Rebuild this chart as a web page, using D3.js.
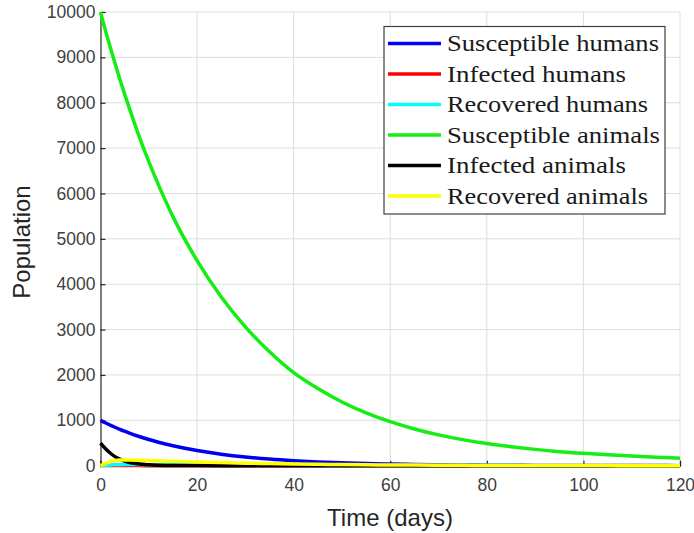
<!DOCTYPE html>
<html>
<head>
<meta charset="utf-8">
<script src="https://cdn.jsdelivr.net/npm/d3@7"></script>
<style>
  html, body { margin: 0; padding: 0; background: #ffffff; }
  svg { display: block; }
</style>
</head>
<body>
<svg id="chart" width="694" height="533"></svg>
<script>
// Time points (days)
const days = [0, 1, 2, 3, 4, 5, 6, 8, 10, 12, 15, 20, 25, 30, 35, 40, 45, 50, 55, 60,
              65, 70, 75, 80, 85, 90, 95, 100, 105, 110, 115, 120];

// Compartment populations at each time point
const susceptibleHumans = [1000, 946, 896, 848, 802, 760, 719, 644, 577, 517, 438, 333, 253, 192, 146, 111,
                           84, 64, 49, 37, 28, 21, 16, 12, 9, 7, 5, 4, 3, 2, 2, 1];
const infectedHumans    = [5, 4, 4, 3, 3, 2, 2, 2, 1, 1, 1, 0, 0, 0, 0, 0,
                           0, 0, 0, 0, 0, 0, 0, 0, 0, 0, 0, 0, 0, 0, 0, 0];
const recoveredHumans   = [0, 8, 14, 19, 22, 24, 25, 24, 23, 22, 20, 17, 14, 12, 10, 8,
                           7, 6, 5, 4, 3, 3, 2, 2, 2, 1, 1, 1, 1, 1, 0, 0];
const susceptibleAnimals = [10000, 9600, 9230, 8870, 8520, 8190, 7870, 7260, 6700, 6190, 5490, 4520, 3720, 3060, 2510, 2050,
                            1700, 1405, 1165, 970, 810, 680, 575, 490, 420, 360, 310, 272, 240, 212, 188, 165];
const infectedAnimals   = [500, 380, 280, 200, 145, 100, 70, 35, 20, 12, 6, 3, 1, 0, 0, 0,
                           0, 0, 0, 0, 0, 0, 0, 0, 0, 0, 0, 0, 0, 0, 0, 0];
const recoveredAnimals  = [0, 50, 90, 112, 124, 128, 127, 122, 115, 108, 98, 82, 68, 56, 46, 38,
                           31, 25, 20, 16, 13, 10, 8, 6, 5, 4, 3, 2, 2, 1, 1, 1];

const seriesNames  = ["Susceptible humans", "Infected humans", "Recovered humans",
                      "Susceptible animals", "Infected animals", "Recovered animals"];
const seriesValues = [susceptibleHumans, infectedHumans, recoveredHumans,
                      susceptibleAnimals, infectedAnimals, recoveredAnimals];
const seriesColors = ["#0000f0", "#ff0000", "#00ffff", "#14ee14", "#000000", "#ffff00"];

const xTicks = [0, 20, 40, 60, 80, 100, 120];
const yTicks = [0, 1000, 2000, 3000, 4000, 5000, 6000, 7000, 8000, 9000, 10000];

const svg = d3.select("#chart");
const plot = { left: 100.5, right: 680, top: 12, bottom: 465.7 };

const x = d3.scaleLinear().domain([0, 120]).range([plot.left, plot.right]);
const y = d3.scaleLinear().domain([0, 10000]).range([plot.bottom, plot.top]);

// Grid
const grid = svg.append("g").attr("stroke", "#dedede").attr("stroke-width", 1);
grid.selectAll("line.gx").data(xTicks.slice(1)).join("line")
  .attr("x1", d => x(d)).attr("x2", d => x(d))
  .attr("y1", plot.top).attr("y2", plot.bottom);
grid.selectAll("line.gy").data(yTicks.slice(1)).join("line")
  .attr("x1", plot.left).attr("x2", plot.right)
  .attr("y1", d => y(d)).attr("y2", d => y(d));

// Axes: ticks pointing inward
const tickFont = "Liberation Sans, Arial, Helvetica, sans-serif";
const xAxis = d3.axisBottom(x).tickValues(xTicks).tickSize(-5).tickPadding(13).tickFormat(d3.format("d"));
const yAxis = d3.axisLeft(y).tickValues(yTicks).tickSize(-5).tickPadding(13).tickFormat(d3.format("d"));

const gx = svg.append("g").attr("transform", `translate(0,${plot.bottom})`).call(xAxis);
const gy = svg.append("g").attr("transform", `translate(${plot.left},0)`).call(yAxis);
[gx, gy].forEach(g => {
  g.select(".domain").attr("stroke", "#262626").attr("stroke-width", 1.2);
  g.selectAll(".tick line").attr("stroke", "#262626").attr("stroke-width", 1.2);
  g.selectAll(".tick text").attr("fill", "#404040").attr("font-size", 17.5).attr("font-family", tickFont);
});
gy.selectAll(".tick text").attr("dx", "0.45em");

// Axis titles
svg.append("text")
  .attr("x", 390).attr("y", 526)
  .attr("text-anchor", "middle")
  .attr("font-family", tickFont).attr("font-size", 24).attr("fill", "#262626")
  .text("Time (days)");
svg.append("text")
  .attr("transform", "translate(30,242) rotate(-90)")
  .attr("text-anchor", "middle")
  .attr("font-family", tickFont).attr("font-size", 24).attr("fill", "#262626")
  .text("Population");

// Curves
const line = d3.line().x((d, i) => x(days[i])).y(d => y(d)).curve(d3.curveMonotoneX);
svg.append("g").selectAll("path").data(seriesValues).join("path")
  .attr("d", d => line(d))
  .attr("fill", "none")
  .attr("stroke", (d, i) => seriesColors[i])
  .attr("stroke-width", 3.5)
  .attr("stroke-linejoin", "round");

// Legend (serif labels stretched to the wider LaTeX-style set width)
const legend = svg.append("g");
legend.append("rect")
  .attr("x", 384).attr("y", 26.5).attr("width", 281).attr("height", 187.5)
  .attr("fill", "#ffffff").attr("stroke", "#404040").attr("stroke-width", 1.2);
const rows = legend.selectAll("g.row").data(seriesNames).join("g")
  .attr("transform", (d, i) => `translate(0,${43.5 + i * 30.5})`);
rows.append("line")
  .attr("x1", 388).attr("x2", 441).attr("y1", 0).attr("y2", 0)
  .attr("stroke", (d, i) => seriesColors[i]).attr("stroke-width", 3.5);
const labelWidths = [212, 179, 201, 213, 179, 201];
rows.append("text")
  .attr("x", 447).attr("y", 7.5)
  .attr("font-family", "Liberation Serif, Times New Roman, serif")
  .attr("font-size", 22.5).attr("fill", "#1a1a1a")
  .attr("textLength", (d, i) => labelWidths[i])
  .attr("lengthAdjust", "spacingAndGlyphs")
  .text(d => d);
</script>
</body>
</html>
